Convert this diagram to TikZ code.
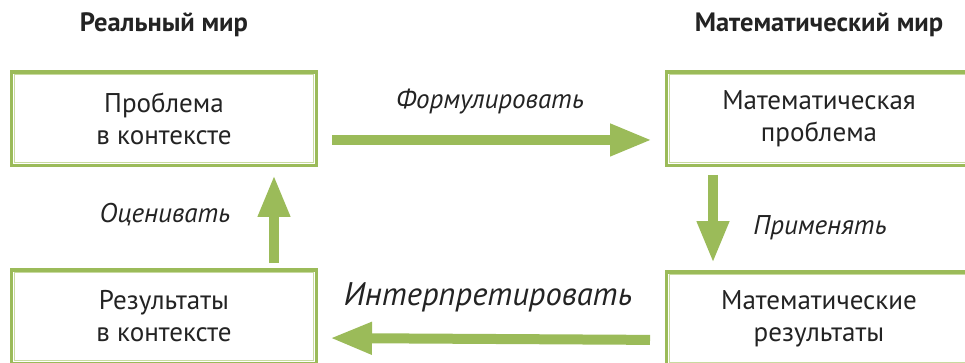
\documentclass[tikz,border=0pt]{standalone}
\usepackage{fontspec}
\setmainfont{PT Sans}
\usetikzlibrary{arrows.meta}
\definecolor{boxgreen}{RGB}{155,187,89}
\definecolor{linegreen}{RGB}{200,218,160}
\definecolor{txtgray}{RGB}{35,35,35}

\begin{document}
\begin{tikzpicture}[x=0.75pt, y=-0.75pt,
    stage/.style={draw=boxgreen, line width=2.6pt, minimum width=228.4pt, minimum height=70.1pt,
        inner sep=0pt, align=center, text=txtgray, font=\fontsize{20.3}{24}\selectfont},
    inner/.style={draw=linegreen, line width=0.8pt},
    flow/.style={draw=boxgreen, line width=7.5pt, -{Triangle[width=22.5pt, length=31.5pt]}},
    verb/.style={text=txtgray, font=\itshape\fontsize{20.3}{24}\selectfont},
    world/.style={text=txtgray, font=\bfseries\fontsize{19.9}{24}\selectfont}]
    \useasboundingbox (0,0) rectangle (965,362);
    \clip (0,0) rectangle (965,362);
    % Headers
    \node[world] (realw) at (164,25) {Реальный мир};
    \node[world] (mathw) at (819,25) {Математический мир};
    % Stages
    \node[stage] (prob) at (164,118.5) {Проблема\\в контексте};
    \node[stage] (mprob) at (819,118.5) {Математическая\\проблема};
    \node[stage] (mres) at (819,318.5) {Математические\\результаты};
    \node[stage] (res) at (164,316.5) {Результаты\\в контексте};
    % Inner frame lines
    \foreach \n in {prob, mprob, mres, res} {
        \draw[inner] ([shift={(3.4pt,-3.4pt)}]\n.north west) rectangle ([shift={(-3.4pt,3.4pt)}]\n.south east);
    }
    % Cycle
    \draw[flow, shorten <=10.5pt, shorten >=9.75pt] ([yshift=-16.1pt]prob.east) -- ([yshift=-16.1pt]mprob.west);
    \draw[flow, shorten <=6pt, shorten >=5.25pt] ([xshift=-79.5pt]mprob.south) -- ([xshift=-79.5pt]mres.north);
    \draw[flow, shorten <=11.25pt, shorten >=9pt] ([yshift=-16.1pt]mres.west) -- ([yshift=-16.1pt]res.east);
    \draw[flow, shorten <=3.75pt, shorten >=6pt] ([xshift=82.5pt]res.north) -- ([xshift=82.5pt]prob.south);
    % Verbs
    \node[verb] (formul) at (490,102) {Формулировать};
    \node[verb] (apply) at (820,228) {Применять};
    \node[verb, font=\itshape\fontsize{24.5}{28}\selectfont] (interp) at (488,297) {Интерпретировать};
    \node[verb] (judge) at (165,215) {Оценивать};
\end{tikzpicture}
\end{document}
